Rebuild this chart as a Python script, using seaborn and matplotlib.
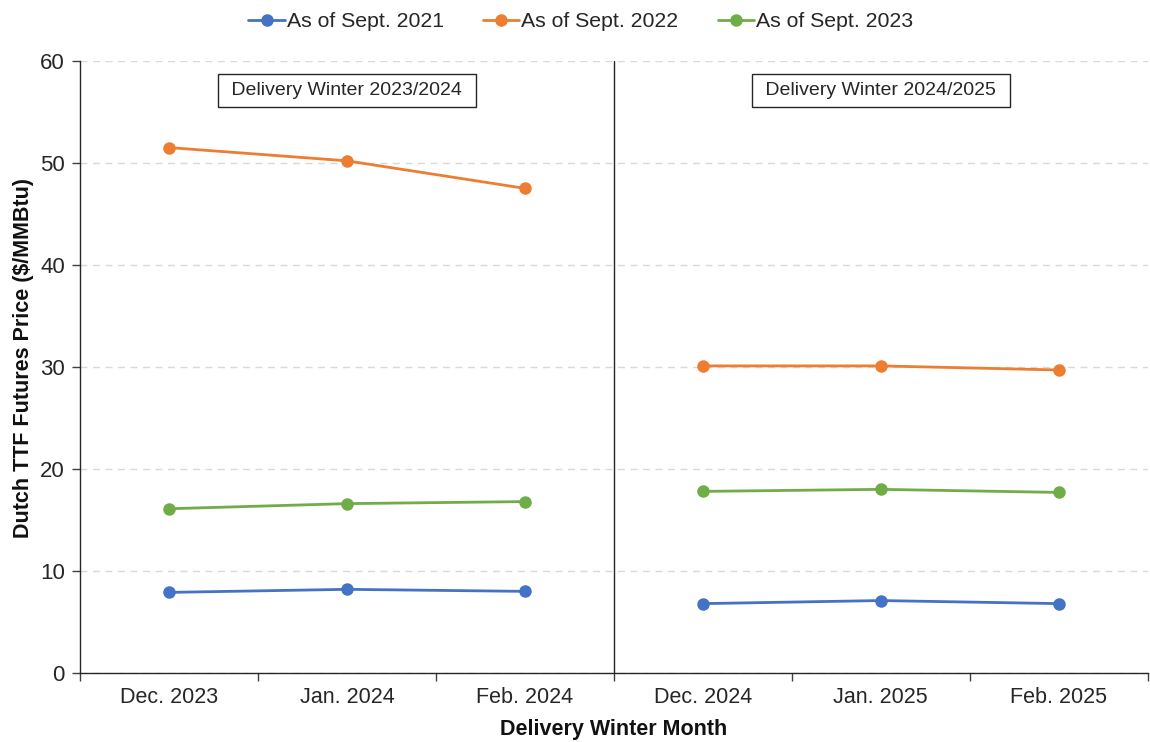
import pandas as pd
import matplotlib.pyplot as plt
import seaborn as sns

# DATA

months = ["Dec. 2023", "Jan. 2024", "Feb. 2024", "Dec. 2024", "Jan. 2025", "Feb. 2025"]
winters = ["Delivery Winter 2023/2024"] * 3 + ["Delivery Winter 2024/2025"] * 3
series = ["As of Sept. 2021", "As of Sept. 2022", "As of Sept. 2023"]

sept_2021 = [7.9, 8.2, 8.0, 6.8, 7.1, 6.8]
sept_2022 = [51.5, 50.2, 47.5, 30.1, 30.1, 29.7]
sept_2023 = [16.1, 16.6, 16.8, 17.8, 18.0, 17.7]

colors = ["#4472C4", "#ED7D31", "#70AD47"]

rows = []
for name, vals in zip(series, [sept_2021, sept_2022, sept_2023]):
    for i, (m, w, v) in enumerate(zip(months, winters, vals)):
        rows.append({"pos": i, "Month": m, "Winter": w, "Series": name, "Price": v})
df = pd.DataFrame(rows)

# PLOT

sns.set_style("white")
plt.rcParams["font.family"] = ["Liberation Sans", "DejaVu Sans"]

fig = plt.figure(figsize=(11.5, 7.42), dpi=100)
ax = fig.add_axes([0.0696, 0.093, 0.9284, 0.825])

palette = dict(zip(series, colors))
for k, w in enumerate(dict.fromkeys(winters)):
    sns.lineplot(data=df[df["Winter"] == w], x="pos", y="Price", hue="Series",
                 palette=palette, marker="o", markersize=9, markeredgewidth=0,
                 linewidth=2, ax=ax, legend=(k == 0))

ax.set_xlim(-0.5, len(months) - 0.5)
ax.set_ylim(0, 60)
ax.set_yticks(range(0, 61, 10))
ax.yaxis.grid(True, linestyle=(0, (5, 4)), color="#d9d9d9", linewidth=1)
ax.set_axisbelow(True)

# Excel-style ticks between categories, labels at centres
ax.set_xticks([i - 0.5 for i in range(len(months) + 1)])
ax.set_xticklabels([])
ax.set_xticks(range(len(months)), minor=True)
ax.set_xticklabels(months, minor=True)
ax.tick_params(axis="x", which="major", bottom=True, length=6, width=1, color="#404040", direction="out")
ax.tick_params(axis="x", which="minor", bottom=True, length=0, labelsize=15.5, pad=10,
               labelcolor="#262626")
ax.tick_params(axis="y", left=True, length=6, width=1, color="#404040", direction="out",
               labelsize=16, labelcolor="#262626", pad=5)

for s in ["top", "right"]:
    ax.spines[s].set_visible(False)
for s in ["left", "bottom"]:
    ax.spines[s].set_color("#262626")
    ax.spines[s].set_linewidth(1)

ax.axvline(2.5, color="#262626", linewidth=1)

for x, label in [(1.0, winters[0]), (4.0, winters[3])]:
    ax.text(x, 57.1, " " + label + " ", ha="center", va="center", fontsize=14, color="#262626",
            bbox=dict(boxstyle="square,pad=0.42", facecolor="white", edgecolor="#262626", linewidth=1))

ax.set_xlabel("Delivery Winter Month", fontsize=15.5, fontweight="bold", color="#111111", labelpad=8)
ax.set_ylabel("Dutch TTF Futures Price ($/MMBtu)", fontsize=15.5, fontweight="bold", color="#111111",
              labelpad=4)
ax.yaxis.label.set_y(0.515)

handles, labels = ax.get_legend_handles_labels()
ax.legend(handles, labels, loc="center", bbox_to_anchor=(0.469, 1.064),
          ncol=3, frameon=False, fontsize=15.3, handlelength=1.7, handletextpad=0.1, columnspacing=1.85)

fig.savefig("out.png", dpi=100)
